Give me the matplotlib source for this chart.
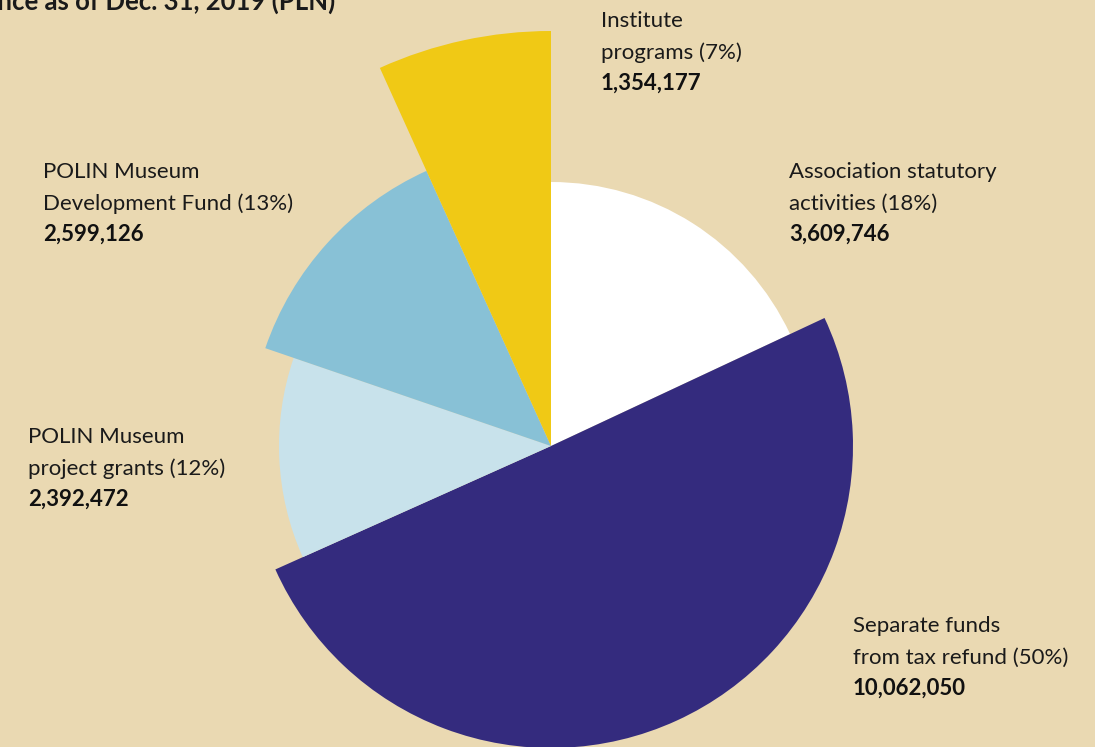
import matplotlib
matplotlib.use("Agg")
import matplotlib.pyplot as plt

# ---- data ----
categories = ["Association statutory\nactivities", "Separate funds\nfrom tax refund",
              "POLIN Museum\nproject grants", "POLIN Museum\nDevelopment Fund",
              "Institute\nprograms"]
values = [3609746, 10062050, 2392472, 2599126, 1354177]
percents = ["18%", "50%", "12%", "13%", "7%"]
title = "Balance as of Dec. 31, 2019 (PLN)"

# ---- style ----
W, H = 1095, 747
bg = "#EAD9B2"
colors = ["#FFFFFF", "#342B7E", "#C8E2EB", "#88C1D6", "#F0C915"]
radii = [264, 302, 272, 302, 415]          # per-slice radius (styling)
center = (551, H - 446)
# label anchors: (x, first baseline in px from top)
label_pos = [(789, 178), (853, 632), (28, 443), (43, 178), (601, 27)]
line_gap = [32, 31]
FONT = "Lato"
fs = 16

fig = plt.figure(figsize=(W / 100, H / 100), dpi=100, facecolor=bg)
ax = fig.add_axes([0, 0, 1, 1])
ax.set_facecolor(bg)

wedges, _ = ax.pie(values, colors=colors, startangle=90, counterclock=False,
                   center=center, radius=300,
                   wedgeprops=dict(linewidth=0, antialiased=True))
for w, r in zip(wedges, radii):
    w.set_radius(r)

ax.set_xlim(0, W)
ax.set_ylim(0, H)
ax.set_aspect("auto")
ax.axis("off")

for cat, pct, val, (x, yb) in zip(categories, percents, values, label_pos):
    l1, l2 = cat.split("\n")
    ys = [yb, yb + line_gap[0], yb + line_gap[0] + line_gap[1]]
    ax.text(x, H - ys[0], l1, fontsize=fs, family=FONT, color="#1a1a1a",
            ha="left", va="baseline")
    ax.text(x, H - ys[1], f"{l2} ({pct})", fontsize=fs, family=FONT,
            color="#1a1a1a", ha="left", va="baseline")
    ax.text(x, H - ys[2], f"{val:,}", fontsize=fs, family=FONT,
            fontweight="bold", color="#111111", ha="left", va="baseline")

ax.text(335, H - 10, title, fontsize=18.5, family=FONT, fontweight="bold",
        color="#1a1a1a", ha="right", va="baseline")

fig.savefig("out.png", dpi=100, facecolor=bg)
